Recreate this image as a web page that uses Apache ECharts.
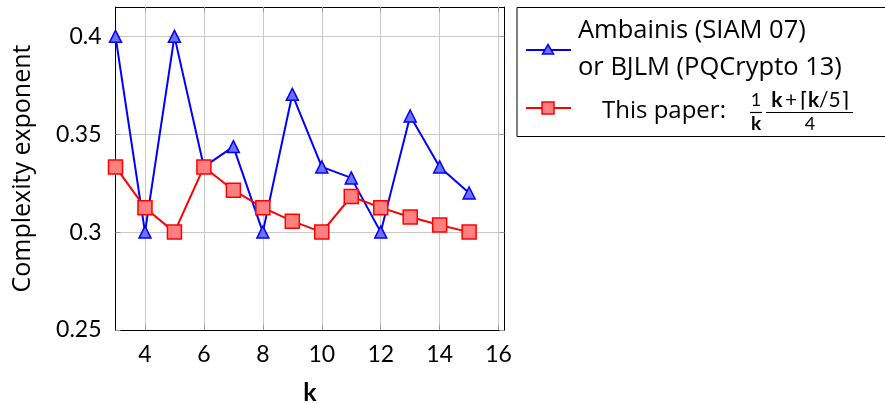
<!DOCTYPE html>
<html>
<head>
<meta charset="utf-8">
<script src="https://cdn.jsdelivr.net/npm/echarts@6/dist/echarts.min.js"></script>
<style>
  html, body { margin: 0; padding: 0; background: #fff; }
  #chart { width: 885px; height: 403px; }
</style>
</head>
<body>
<div id="chart"></div>
<script>
// data
var kValues = [3, 4, 5, 6, 7, 8, 9, 10, 11, 12, 13, 14, 15];
var ambainis = [0.4, 0.3, 0.4, 0.3333, 0.3437, 0.3, 0.3704, 0.3333, 0.3277, 0.3, 0.3593, 0.3333, 0.32];
var thisPaper = [0.3333, 0.3125, 0.3, 0.3333, 0.3214, 0.3125, 0.3056, 0.3, 0.3182, 0.3125, 0.3077, 0.3036, 0.3];
var xTicks = [4, 6, 8, 10, 12, 14, 16];
var yTicks = [0.25, 0.3, 0.35, 0.4];

var FONT = 'Lato';
var WIDE = 'Open Sans';

function pairs(xs, ys) {
    var res = [];
    for (var i = 0; i < xs.length; i++) {
        res.push([xs[i], ys[i]]);
    }
    return res;
}

function txt(x, y, s, size, extra) {
    var style = { text: s, fontSize: size, fontFamily: FONT, fill: '#000', verticalAlign: 'middle' };
    for (var key in extra) style[key] = extra[key];
    return { type: 'text', x: x, y: y, style: style };
}

var myChart = echarts.init(document.getElementById('chart'));

var frame = { show: true, lineStyle: { color: '#000', width: 1 } };
var tick = { show: true, inside: true, length: 5, lineStyle: { color: '#999' } };
var grid = { show: true, lineStyle: { color: '#c8c8c8', width: 1 } };

var option = {
    animation: false,
    backgroundColor: '#fff',
    textStyle: { fontFamily: FONT },
    grid: { left: 115.5, right: 380.5, top: 7, bottom: 73, containLabel: false, outerBoundsMode: 'none' },
    xAxis: [{
        type: 'value',
        min: 3,
        max: 16.2,
        name: 'k',
        nameLocation: 'middle',
        nameGap: 50,
        nameTextStyle: { fontSize: 25, fontWeight: 'bold', color: '#000', fontFamily: FONT },
        axisLine: frame,
        axisTick: Object.assign({ customValues: xTicks }, tick),
        axisLabel: { customValues: xTicks, fontSize: 23, color: '#000', margin: 13, fontFamily: FONT },
        splitLine: grid
    }, {
        type: 'value',
        position: 'top',
        min: 3,
        max: 16.2,
        axisLine: frame,
        axisTick: Object.assign({ customValues: xTicks }, tick),
        axisLabel: { show: false, customValues: xTicks },
        splitLine: { show: false }
    }],
    yAxis: [{
        type: 'value',
        min: 0.25,
        max: 0.415,
        name: 'Complexity exponent',
        nameLocation: 'middle',
        nameGap: 80,
        nameTextStyle: { fontSize: 25, color: '#000', fontFamily: WIDE },
        axisLine: frame,
        axisTick: Object.assign({ customValues: yTicks }, tick),
        axisLabel: { customValues: yTicks, fontSize: 23, color: '#000', margin: 14, fontFamily: FONT },
        splitLine: grid
    }, {
        type: 'value',
        position: 'right',
        min: 0.25,
        max: 0.415,
        axisLine: frame,
        axisTick: Object.assign({ customValues: yTicks }, tick),
        axisLabel: { show: false, customValues: yTicks },
        splitLine: { show: false }
    }],
    series: [
        {
            name: 'Ambainis (SIAM 07) or BJLM (PQCrypto 13)',
            type: 'line',
            data: pairs(kValues, ambainis),
            symbol: 'triangle',
            symbolSize: 12,
            lineStyle: { color: '#0000ff', width: 2 },
            itemStyle: { color: '#7070ff', borderColor: '#0000ff', borderWidth: 1.5 },
            z: 3
        },
        {
            name: 'This paper',
            type: 'line',
            data: pairs(kValues, thisPaper),
            symbol: 'rect',
            symbolSize: 14,
            lineStyle: { color: '#ff0000', width: 2 },
            itemStyle: { color: '#ff8080', borderColor: '#ff0000', borderWidth: 1.5 },
            z: 4
        }
    ],
    graphic: [
        { type: 'rect', shape: { x: 517, y: 7.5, width: 370, height: 129 },
          style: { fill: '#fff', stroke: '#000', lineWidth: 1 } },
        // blue entry
        { type: 'line', shape: { x1: 526, y1: 50, x2: 571, y2: 50 }, style: { stroke: '#0000ff', lineWidth: 2 } },
        { type: 'polygon', shape: { points: [[548, 44.5], [553.5, 54], [542.5, 54]] },
          style: { fill: '#7070ff', stroke: '#0000ff', lineWidth: 1.5 } },
        txt(578, 31, 'Ambainis (SIAM 07)', 25.5, { fontFamily: WIDE }),
        txt(578, 68, 'or BJLM (PQCrypto 13)', 25.5, { fontFamily: WIDE }),
        // red entry
        { type: 'line', shape: { x1: 526, y1: 108, x2: 571, y2: 108 }, style: { stroke: '#ff0000', lineWidth: 2 } },
        { type: 'rect', shape: { x: 542, y: 102, width: 12, height: 12 },
          style: { fill: '#ff8080', stroke: '#ff0000', lineWidth: 1.5 } },
        txt(602, 111, 'This paper:', 24, { fontFamily: WIDE }),
        // 1/k
        txt(756, 100, '1', 18, { align: 'center' }),
        { type: 'line', shape: { x1: 750, y1: 112.5, x2: 762, y2: 112.5 }, style: { stroke: '#000', lineWidth: 1.2 } },
        txt(756, 124, 'k', 19, { align: 'center', fontWeight: 'bold' }),
        // (k + ceil(k/5)) / 4
        txt(810, 100, '{b|k}{n|\u2009+\u2009⌈}{b|k}{n|/5⌉}', 21, { align: 'center',
            rich: {
                b: { fontWeight: 'bold', fontSize: 21, fontFamily: FONT, fill: '#000' },
                n: { fontSize: 21, fontFamily: FONT, fill: '#000' }
            } }),
        { type: 'line', shape: { x1: 766, y1: 112.5, x2: 853, y2: 112.5 }, style: { stroke: '#000', lineWidth: 1.2 } },
        txt(810, 124, '4', 18, { align: 'center' })
    ]
};

myChart.setOption(option);
window.addEventListener('resize', function () {
    myChart.resize();
});
</script>
</body>
</html>
